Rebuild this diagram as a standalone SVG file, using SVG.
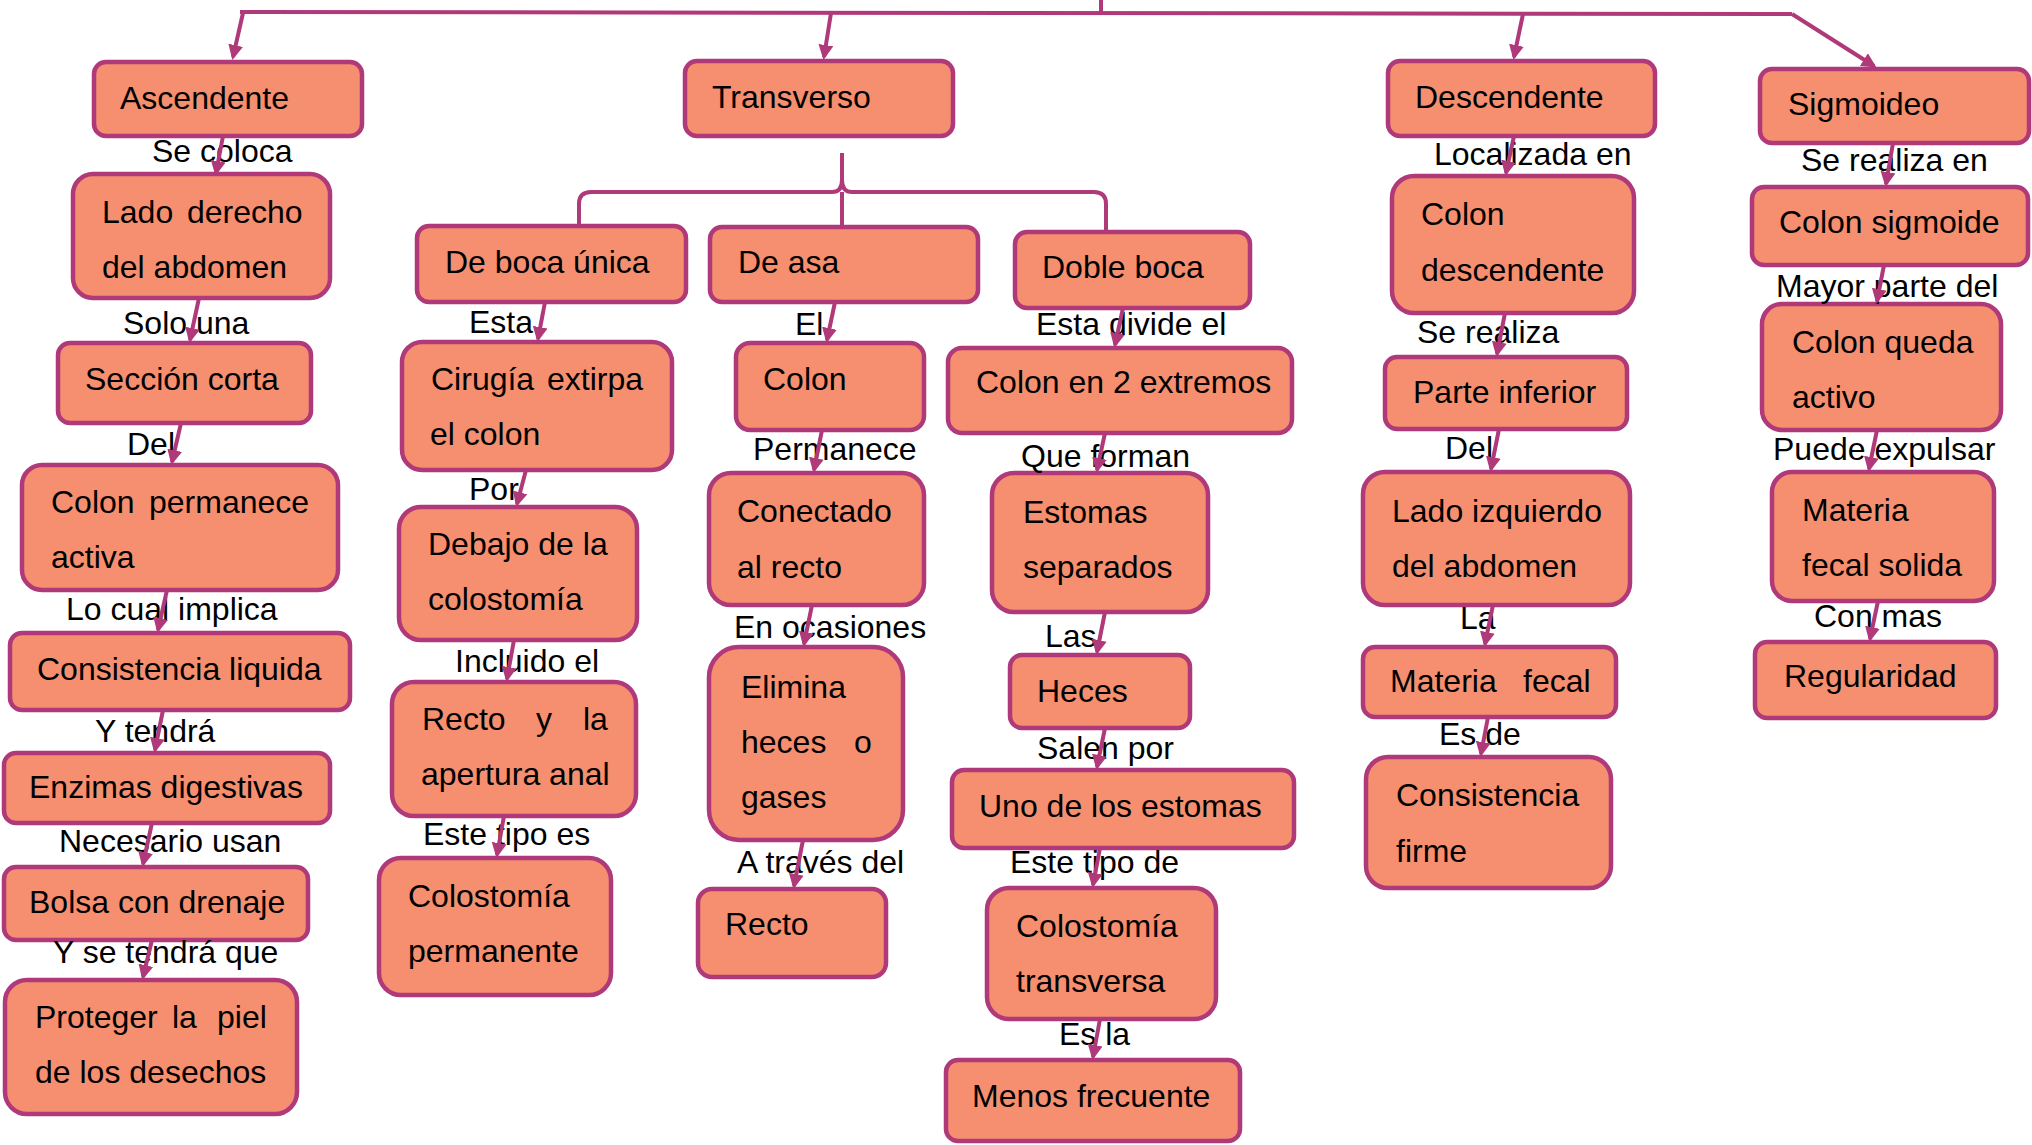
<svg xmlns="http://www.w3.org/2000/svg" width="2032" height="1145" viewBox="0 0 2032 1145">
<defs>
<style>
.box{fill:#F58F6F;stroke:#B0397A;stroke-width:4.5}
.t{font-family:"Liberation Sans",Arial,sans-serif;font-size:32px;fill:#000}
.c{fill:none;stroke:#B0397A;stroke-width:4}
.a{fill:none;stroke:#B0397A;stroke-width:4;marker-end:url(#ah)}
</style>
<marker id="ah" markerUnits="userSpaceOnUse" markerWidth="16" markerHeight="16" viewBox="0 0 16 16" refX="12" refY="8" orient="auto">
<path d="M0,0.5 L15,8 L0,15.5 z" fill="#B0397A"/>
</marker>
</defs>
<rect width="2032" height="1145" fill="#fff"/>

<g id="nodes">
<g id="ascendente"><rect class="box" x="94" y="62" width="268" height="74" rx="12"/><text class="t" x="120" y="109">Ascendente</text></g>
<g id="lado-derecho"><rect class="box" x="73" y="174" width="257" height="124" rx="20"/><text class="t" y="223"><tspan x="102">Lado </tspan><tspan x="187">derecho</tspan></text><text class="t" x="102" y="278">del abdomen</text></g>
<g id="seccion-corta"><rect class="box" x="58" y="343" width="253" height="80" rx="12"/><text class="t" x="85" y="390">Sección corta</text></g>
<g id="colon-permanece"><rect class="box" x="22" y="465" width="316" height="125" rx="20"/><text class="t" y="513"><tspan x="51">Colon </tspan><tspan x="149">permanece</tspan></text><text class="t" x="51" y="568">activa</text></g>
<g id="consistencia-liquida"><rect class="box" x="10" y="633" width="340" height="77" rx="12"/><text class="t" x="37" y="680">Consistencia liquida</text></g>
<g id="enzimas"><rect class="box" x="4" y="753" width="326" height="70" rx="12"/><text class="t" x="29" y="798">Enzimas digestivas</text></g>
<g id="bolsa"><rect class="box" x="4" y="867" width="304" height="73" rx="12"/><text class="t" x="29" y="913">Bolsa con drenaje</text></g>
<g id="proteger"><rect class="box" x="5" y="980" width="292" height="134" rx="22"/><text class="t" y="1028"><tspan x="35">Proteger </tspan><tspan x="172">la </tspan><tspan x="217">piel</tspan></text><text class="t" x="35" y="1083">de los desechos</text></g>

<g id="transverso"><rect class="box" x="685" y="61" width="268" height="75" rx="12"/><text class="t" x="712" y="108">Transverso</text></g>
<g id="boca-unica"><rect class="box" x="417" y="226" width="269" height="76" rx="12"/><text class="t" x="445" y="273">De boca única</text></g>
<g id="cirugia"><rect class="box" x="402" y="342" width="270" height="128" rx="20"/><text class="t" y="390"><tspan x="431">Cirugía </tspan><tspan x="547">extirpa</tspan></text><text class="t" x="430" y="445">el colon</text></g>
<g id="debajo"><rect class="box" x="399" y="507" width="238" height="133" rx="22"/><text class="t" x="428" y="555">Debajo de la</text><text class="t" x="428" y="610">colostomía</text></g>
<g id="recto-apertura"><rect class="box" x="392" y="682" width="244" height="134" rx="22"/><text class="t" y="730"><tspan x="422">Recto </tspan><tspan x="536">y </tspan><tspan x="583">la</tspan></text><text class="t" x="421" y="785">apertura anal</text></g>
<g id="colostomia-permanente"><rect class="box" x="379" y="858" width="232" height="137" rx="22"/><text class="t" x="408" y="907">Colostomía</text><text class="t" x="408" y="962">permanente</text></g>
<g id="de-asa"><rect class="box" x="710" y="227" width="268" height="75" rx="12"/><text class="t" x="738" y="273">De asa</text></g>
<g id="colon"><rect class="box" x="736" y="343" width="188" height="87" rx="14"/><text class="t" x="763" y="390">Colon</text></g>
<g id="conectado"><rect class="box" x="709" y="473" width="215" height="132" rx="22"/><text class="t" x="737" y="522">Conectado</text><text class="t" x="737" y="578">al recto</text></g>
<g id="elimina"><rect class="box" x="709" y="647" width="194" height="193" rx="30"/><text class="t" x="741" y="698">Elimina</text><text class="t" y="753"><tspan x="741">heces </tspan><tspan x="854">o</tspan></text><text class="t" x="741" y="808">gases</text></g>
<g id="recto"><rect class="box" x="698" y="889" width="188" height="88" rx="14"/><text class="t" x="725" y="935">Recto</text></g>
<g id="doble-boca"><rect class="box" x="1015" y="232" width="235" height="76" rx="12"/><text class="t" x="1042" y="278">Doble boca</text></g>
<g id="colon-2-extremos"><rect class="box" x="948" y="348" width="344" height="85" rx="14"/><text class="t" x="976" y="393">Colon en 2 extremos</text></g>
<g id="estomas"><rect class="box" x="992" y="473" width="216" height="139" rx="22"/><text class="t" x="1023" y="523">Estomas</text><text class="t" x="1023" y="578">separados</text></g>
<g id="heces"><rect class="box" x="1010" y="655" width="180" height="73" rx="12"/><text class="t" x="1037" y="702">Heces</text></g>
<g id="uno-estomas"><rect class="box" x="952" y="770" width="342" height="78" rx="12"/><text class="t" x="979" y="817">Uno de los estomas</text></g>
<g id="colostomia-transversa"><rect class="box" x="987" y="888" width="229" height="131" rx="22"/><text class="t" x="1016" y="937">Colostomía</text><text class="t" x="1016" y="992">transversa</text></g>
<g id="menos-frecuente"><rect class="box" x="946" y="1060" width="294" height="81" rx="12"/><text class="t" x="972" y="1107">Menos frecuente</text></g>

<g id="descendente"><rect class="box" x="1388" y="61" width="267" height="75" rx="12"/><text class="t" x="1415" y="108">Descendente</text></g>
<g id="colon-descendente"><rect class="box" x="1392" y="176" width="242" height="137" rx="22"/><text class="t" x="1421" y="225">Colon</text><text class="t" x="1421" y="281">descendente</text></g>
<g id="parte-inferior"><rect class="box" x="1385" y="357" width="242" height="72" rx="12"/><text class="t" x="1413" y="403">Parte inferior</text></g>
<g id="lado-izquierdo"><rect class="box" x="1363" y="472" width="267" height="133" rx="22"/><text class="t" x="1392" y="522">Lado izquierdo</text><text class="t" x="1392" y="577">del abdomen</text></g>
<g id="materia-fecal"><rect class="box" x="1363" y="647" width="253" height="70" rx="12"/><text class="t" y="692"><tspan x="1390">Materia </tspan><tspan x="1523">fecal</tspan></text></g>
<g id="consistencia-firme"><rect class="box" x="1366" y="757" width="245" height="131" rx="22"/><text class="t" x="1396" y="806">Consistencia</text><text class="t" x="1396" y="862">firme</text></g>

<g id="sigmoideo"><rect class="box" x="1760" y="69" width="269" height="74" rx="12"/><text class="t" x="1788" y="115">Sigmoideo</text></g>
<g id="colon-sigmoide"><rect class="box" x="1752" y="187" width="276" height="78" rx="12"/><text class="t" x="1779" y="233">Colon sigmoide</text></g>
<g id="colon-queda"><rect class="box" x="1762" y="304" width="239" height="126" rx="20"/><text class="t" x="1792" y="353">Colon queda</text><text class="t" x="1792" y="408">activo</text></g>
<g id="materia-solida"><rect class="box" x="1772" y="472" width="222" height="129" rx="20"/><text class="t" x="1802" y="521">Materia</text><text class="t" x="1802" y="576">fecal solida</text></g>
<g id="regularidad"><rect class="box" x="1755" y="642" width="241" height="76" rx="12"/><text class="t" x="1784" y="687">Regularidad</text></g>
</g>

<g id="labels">
<text class="t" x="152" y="162">Se coloca</text>
<text class="t" x="123" y="334">Solo una</text>
<text class="t" x="127" y="455">Del</text>
<text class="t" x="66" y="620">Lo cual implica</text>
<text class="t" x="95" y="742">Y tendrá</text>
<text class="t" x="59" y="852">Necesario usan</text>
<text class="t" x="53" y="963">Y se tendrá que</text>
<text class="t" x="469" y="333">Esta</text>
<text class="t" x="469" y="500">Por</text>
<text class="t" x="455" y="672">Incluido el</text>
<text class="t" x="423" y="845">Este tipo es</text>
<text class="t" x="795" y="335">El</text>
<text class="t" x="753" y="460">Permanece</text>
<text class="t" x="734" y="638">En ocasiones</text>
<text class="t" x="737" y="873">A través del</text>
<text class="t" x="1036" y="335">Esta divide el</text>
<text class="t" x="1021" y="467">Que forman</text>
<text class="t" x="1045" y="647">Las</text>
<text class="t" x="1037" y="759">Salen por</text>
<text class="t" x="1010" y="873">Este tipo de</text>
<text class="t" x="1059" y="1045">Es la</text>
<text class="t" x="1434" y="165">Localizada en</text>
<text class="t" x="1417" y="343">Se realiza</text>
<text class="t" x="1445" y="459">Del</text>
<text class="t" x="1460" y="629">La</text>
<text class="t" x="1439" y="745">Es de</text>
<text class="t" x="1801" y="171">Se realiza en</text>
<text class="t" x="1776" y="297">Mayor parte del</text>
<text class="t" x="1773" y="460">Puede expulsar</text>
<text class="t" x="1814" y="627">Con mas</text>
</g>

<g id="connectors">
<path class="c" d="M240,12 L1792,14" stroke-width="5"/>
<path class="c" d="M1101,0 L1101,13"/>
<path class="a" d="M243,13 L233,57"/>
<path class="a" d="M831,13 L824,57"/>
<path class="a" d="M1523,14 L1514,57"/>
<path class="a" d="M1792,14 L1874,66"/>
<path class="c" d="M842,153 L842,180 Q842,192 832,192 L591,192 Q579,192 579,204 L579,226"/>
<path class="c" d="M842,180 Q842,192 852,192 L1094,192 Q1106,192 1106,204 L1106,232"/>
<path class="c" d="M842,192 L842,227"/>
<path class="a" d="M223,136 L216,173"/>
<path class="a" d="M199,298 L190,340"/>
<path class="a" d="M181,423 L172,462"/>
<path class="a" d="M167,590 L158,630"/>
<path class="a" d="M163,710 L155,750"/>
<path class="a" d="M152,823 L143,864"/>
<path class="a" d="M152,940 L143,977"/>
<path class="a" d="M545,302 L538,339"/>
<path class="a" d="M526,470 L517,504"/>
<path class="a" d="M514,640 L507,679"/>
<path class="a" d="M504,816 L497,855"/>
<path class="a" d="M835,302 L827,340"/>
<path class="a" d="M822,430 L814,470"/>
<path class="a" d="M812,605 L804,644"/>
<path class="a" d="M803,840 L794,886"/>
<path class="a" d="M1123,308 L1115,345"/>
<path class="a" d="M1105,433 L1097,470"/>
<path class="a" d="M1105,612 L1097,652"/>
<path class="a" d="M1105,728 L1097,767"/>
<path class="a" d="M1100,848 L1093,885"/>
<path class="a" d="M1100,1019 L1093,1057"/>
<path class="a" d="M1514,136 L1506,173"/>
<path class="a" d="M1505,313 L1497,354"/>
<path class="a" d="M1499,429 L1491,469"/>
<path class="a" d="M1493,605 L1485,644"/>
<path class="a" d="M1488,717 L1481,754"/>
<path class="a" d="M1893,143 L1886,184"/>
<path class="a" d="M1884,265 L1877,301"/>
<path class="a" d="M1877,430 L1869,469"/>
<path class="a" d="M1878,601 L1870,639"/>
</g>
</svg>
